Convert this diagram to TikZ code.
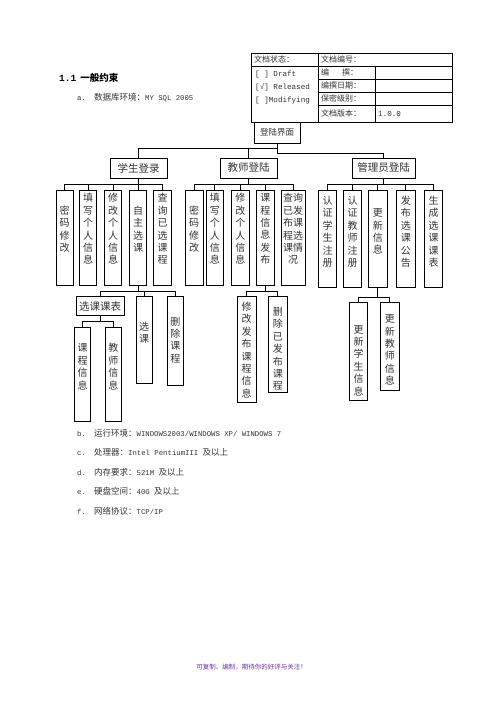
\documentclass[tikz,border=0pt]{standalone}
\usepackage{fontspec}
\setmainfont{Liberation Mono}
\newfontfamily\cjk{Noto Sans CJK SC}
\usetikzlibrary{fit}
\definecolor{txt}{gray}{0.2}
\definecolor{foot}{RGB}{112,48,160}
\newcommand\leaf[7]{%
  \node[box, fit={(#2,#4) (#3,#5)}] (#1) {};
  \node[vt] (#1t) at ({(#2+#3)/2},#6) {#7};}
\begin{document}
\begin{tikzpicture}[x=1pt,y=-1pt,
  box/.style={draw, line width=0.9pt, inner sep=0pt},
  ln/.style={line width=0.9pt},
  tl/.style={line width=0.6pt},
  vt/.style={font=\fontsize{10}{12.4}\selectfont\cjk, align=center, inner sep=0pt, text=txt},
  hb/.style={draw, line width=0.9pt, inner sep=0pt, text=txt},
  tt/.style={anchor=base west, inner sep=0pt, font=\fontsize{7.6}{10}\selectfont, text=txt},
  lt/.style={anchor=base west, inner sep=0pt, font=\fontsize{7.3}{9}\selectfont, text=txt},
]
\useasboundingbox[fill=white] (0,0) rectangle (496,702);

% heading
\node[anchor=base west, inner sep=0pt, font=\bfseries\fontsize{9.5}{11}\selectfont] (head) at (59,81.5) {1.1\hspace{4pt}{\cjk\bfseries 一般约束}};
\node[lt] (la) at (77,100) {a.};
\node[lt] (ta) at (94,100) {{\cjk\fontsize{8.5}{10}\selectfont 数据库环境：}MY SQL 2005};

% table
\draw[tl] (251,53) rectangle (452,122);
\draw[tl] (318,53) -- (318,122);
\draw[tl] (375,66) -- (375,122);
\draw[tl] (251,66) -- (452,66);
\foreach \yy in {79,92,105} \draw[tl] (318,\yy) -- (452,\yy);
\node[tt] (c1) at (254,62.5) {\cjk\fontsize{8}{10}\selectfont 文档状态：};
\node[tt] (c2) at (255,76) {[ ] Draft};
\node[tt] (c3) at (255,89) {[√] Released};
\node[tt] (c4) at (255,102) {[ ]Modifying};
\node[tt] (d1) at (321,62.5) {\cjk\fontsize{8}{10}\selectfont 文档编号：};
\node[tt] (d2) at (321,75.5) {\cjk\fontsize{8}{10}\selectfont 编\hspace{13pt}撰：};
\node[tt] (d3) at (321,88.5) {\cjk\fontsize{8}{10}\selectfont 编撰日期：};
\node[tt] (d4) at (321,101.5) {\cjk\fontsize{8}{10}\selectfont 保密级别：};
\node[tt] (d5) at (321,116.5) {\cjk\fontsize{8}{10}\selectfont 文档版本：};
\node[tt] (e5) at (378,116.5) {1.0.0};

% root and level 1
\node[hb, fit={(254,122) (300,143)}] (root) {};
\node[vt, font=\fontsize{8.5}{10}\selectfont\cjk] (roott) at (277,132.5) {登陆界面};
\node[hb, fit={(110,158) (167,178)}] (stu) {};
\node[vt, font=\fontsize{10.5}{12}\selectfont\cjk] at (138.5,168) {学生登录};
\node[hb, fit={(220,158) (277,178)}] (tea) {};
\node[vt, font=\fontsize{10.5}{12}\selectfont\cjk] at (248.5,168) {教师登陆};
\node[hb, fit={(352,158) (415,178)}] (adm) {};
\node[vt, font=\fontsize{10.5}{12}\selectfont\cjk] at (383.5,168) {管理员登陆};

\coordinate (b0l) at (0,148);
\coordinate (b0r) at (0,153);
\draw[ln] (root.south) -- (root.south |- b0l) -| (stu.north);
\draw[ln] (tea.north) -- (tea.north |- b0l);
\draw[ln] (root.south) -- (root.south |- b0r) -| (adm.north);

% level 2
\leaf{s1}{56}{73.3}{190.7}{285}{229}{密\\码\\修\\改}
\leaf{s2}{79.3}{96.7}{190.7}{285}{229}{填\\写\\个\\人\\信\\息}
\leaf{s3}{104.3}{121.7}{190.7}{285}{229}{修\\改\\个\\人\\信\\息}
\leaf{s4}{129.3}{146.7}{190.7}{285}{229}{自\\主\\选\\课}
\leaf{s5}{153.3}{171.7}{190.7}{285}{229}{查\\询\\已\\选\\课\\程}
\leaf{t1}{185}{203.3}{190.7}{285}{229}{密\\码\\修\\改}
\leaf{t2}{206.5}{223.3}{190.7}{285}{229}{填\\写\\个\\人\\信\\息}
\leaf{t3}{231.7}{249}{190.7}{285}{229}{修\\改\\个\\人\\信\\息}
\leaf{t4}{256.7}{274}{190.7}{285}{229}{课\\程\\信\\息\\发\\布}
\leaf{t5}{281}{305}{190.7}{285}{229}{查询\\已发\\布课\\程选\\课情\\况}
\leaf{a1}{318.3}{336.7}{190.7}{287}{231.7}{认\\证\\学\\生\\注\\册}
\leaf{a2}{343.3}{361.7}{190.7}{287}{231.7}{认\\证\\教\\师\\注\\册}
\leaf{a3}{368.3}{387.3}{190.7}{287}{231.7}{更\\新\\信\\息}
\leaf{a4}{396.7}{415}{190.7}{287}{231.7}{发\\布\\选\\课\\公\\告}
\leaf{a5}{424.3}{442.7}{190.7}{287}{231.7}{生\\成\\选\\课\\课\\表}

\coordinate (b1) at (0,184);
\foreach \c in {s1,s2,s3,s4,s5} \draw[ln] (stu.south) -- (stu.south |- b1) -| (\c.north);
\foreach \c in {t1,t2,t3,t4,t5} \draw[ln] (tea.south) -- (tea.south |- b1) -| (\c.north);
\foreach \c in {a1,a2,a3,a4,a5} \draw[ln] (adm.south) -- (adm.south |- b1) -| (\c.north);

% level 3 under 自主选课
\node[hb, fit={(76,296.7) (124,315.7)}] (xk) {};
\node[vt, font=\fontsize{10.5}{12}\selectfont\cjk] at (100,306.2) {选课课表};
\leaf{x2}{136}{152.3}{296.7}{383.3}{332.5}{选\\课}
\leaf{x3}{167.3}{183.3}{296.7}{385}{340}{删\\除\\课\\程}
\leaf{y1}{74.3}{90.7}{327.3}{421.7}{366.7}{课\\程\\信\\息}
\leaf{y2}{105}{121.7}{327.3}{421.7}{366.7}{教\\师\\信\\息}
\coordinate (b2) at (0,291);
\coordinate (b3) at (0,321);
\foreach \c in {xk,x2,x3} \draw[ln] (s4.south) -- (s4.south |- b2) -| (\c.north);
\foreach \c in {y1,y2} \draw[ln] (xk.south) -- (xk.south |- b3) -| (\c.north);

% under 课程信息发布
\leaf{p1}{237.3}{256}{296.7}{402}{350}{修\\改\\发\\布\\课\\程\\信\\息}
\leaf{p2}{268.3}{287.3}{296.7}{392}{349}{删\\除\\已\\发\\布\\课\\程}
\foreach \c in {p1,p2} \draw[ln] (t4.south) -- (t4.south |- b2) -| (\c.north);

% under 更新信息
\leaf{u1}{349.3}{367.7}{302.3}{400}{360.5}{更\\新\\学\\生\\信\\息}
\leaf{u2}{380.3}{399.3}{302.3}{390}{350}{更\\新\\教\\师\\信\\息}
\coordinate (b4) at (0,297);
\foreach \c in {u1,u2} \draw[ln] (a3.south) -- (a3.south |- b4) -| (\c.north);

% list
\node[lt] (lb) at (77,436.5) {b.};
\node[lt] (tb) at (94,436.5) {{\cjk\fontsize{8.5}{10}\selectfont 运行环境：}WINDOWS2003/WINDOWS XP/ WINDOWS 7};
\node[lt] (lc) at (77,455.5) {c.};
\node[lt] (tc) at (94,455.5) {{\cjk\fontsize{8.5}{10}\selectfont 处理器：}Intel PentiumIII {\cjk\fontsize{8.5}{10}\selectfont 及以上}};
\node[lt] (ld) at (77,475) {d.};
\node[lt] (td) at (94,475) {{\cjk\fontsize{8.5}{10}\selectfont 内存要求：}521M {\cjk\fontsize{8.5}{10}\selectfont 及以上}};
\node[lt] (le) at (77,494.5) {e.};
\node[lt] (te) at (94,494.5) {{\cjk\fontsize{8.5}{10}\selectfont 硬盘空间：}40G {\cjk\fontsize{8.5}{10}\selectfont 及以上}};
\node[lt] (lf) at (77,514) {f.};
\node[lt] (tf) at (94,514) {{\cjk\fontsize{8.5}{10}\selectfont 网络协议：}TCP/IP};

% footer
\node[inner sep=0pt, text=foot, font=\fontsize{6.5}{8}\selectfont\cjk] (foot) at (251.5,667) {可复制、编制，期待你的好评与关注！};
\end{tikzpicture}
\end{document}
